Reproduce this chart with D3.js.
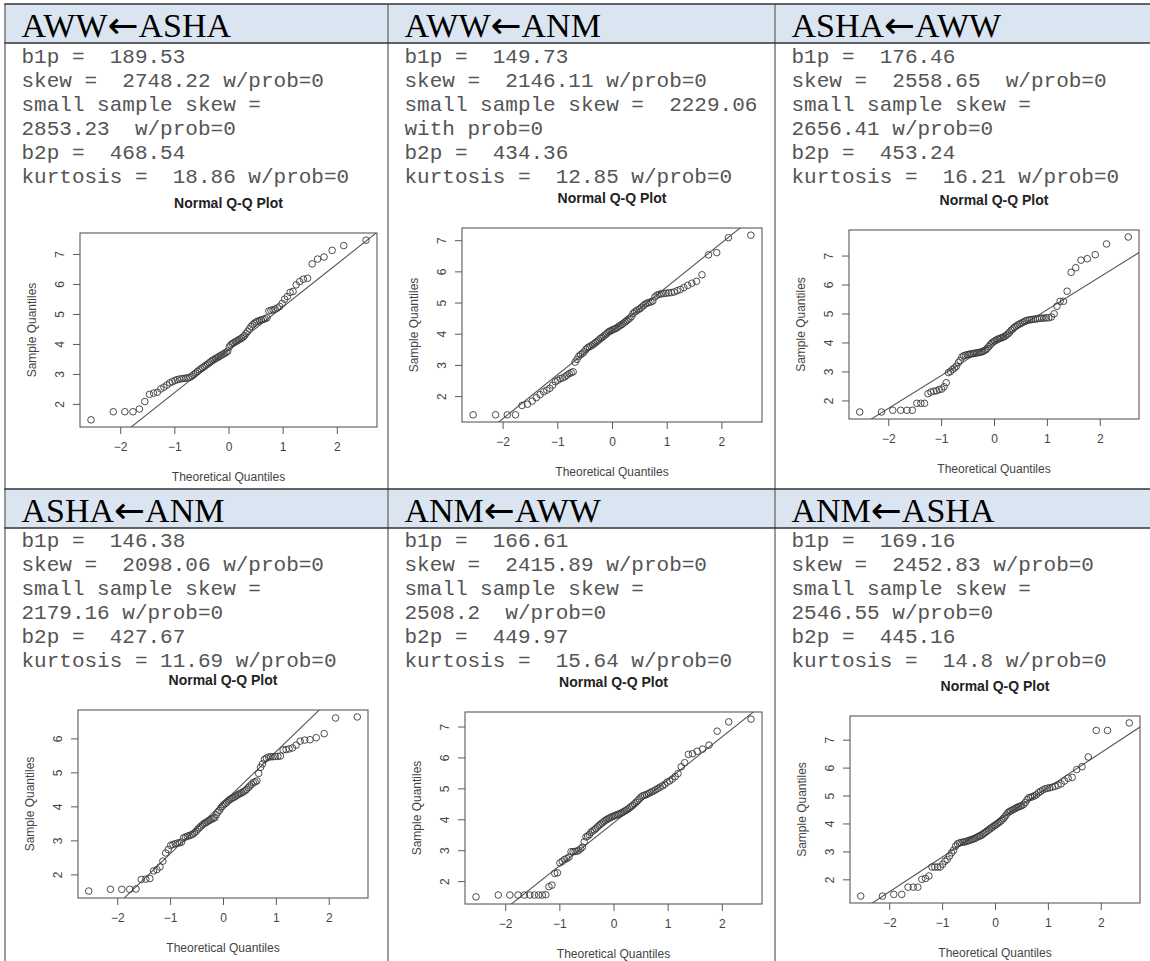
<!DOCTYPE html>
<html>
<head>
<meta charset="utf-8">
<script src="https://cdn.jsdelivr.net/npm/d3@7"></script>
<style>
  html, body { margin: 0; padding: 0; background: #ffffff; }
  svg { display: block; }
</style>
</head>
<body>
<svg id="chart" width="1150" height="961"></svg>
<script>
// ---------------- DATA ----------------
const panelTitles = ["AWW\u2190ASHA", "AWW\u2190ANM", "ASHA\u2190AWW", "ASHA\u2190ANM", "ANM\u2190AWW", "ANM\u2190ASHA"];

const statLinesAwwAsha = ["b1p =  189.53", "skew =  2748.22 w/prob=0", "small sample skew =", "2853.23  w/prob=0", "b2p =  468.54", "kurtosis =  18.86 w/prob=0"];
const statLinesAwwAnm  = ["b1p =  149.73", "skew =  2146.11 w/prob=0", "small sample skew =  2229.06", "with prob=0", "b2p =  434.36", "kurtosis =  12.85 w/prob=0"];
const statLinesAshaAww = ["b1p =  176.46", "skew =  2558.65  w/prob=0", "small sample skew =", "2656.41 w/prob=0", "b2p =  453.24", "kurtosis =  16.21 w/prob=0"];
const statLinesAshaAnm = ["b1p =  146.38", "skew =  2098.06 w/prob=0", "small sample skew =", "2179.16 w/prob=0", "b2p =  427.67", "kurtosis = 11.69 w/prob=0"];
const statLinesAnmAww  = ["b1p =  166.61", "skew =  2415.89 w/prob=0", "small sample skew =", "2508.2  w/prob=0", "b2p =  449.97", "kurtosis =  15.64 w/prob=0"];
const statLinesAnmAsha = ["b1p =  169.16", "skew =  2452.83 w/prob=0", "small sample skew =", "2546.55 w/prob=0", "b2p =  445.16", "kurtosis =  14.8 w/prob=0"];

const plotTitle = "Normal Q-Q Plot";
const xAxisLabel = "Theoretical Quantiles";
const yAxisLabel = "Sample Quantiles";

// theoretical normal quantiles (n = 90)
const theoreticalQuantiles = [-2.539,-2.128,-1.914,-1.764,-1.645,-1.545,-1.459,-1.383,-1.314,-1.250,-1.192,-1.137,-1.085,-1.036,-0.990,-0.946,-0.903,-0.862,-0.822,-0.784,-0.746,-0.710,-0.674,-0.640,-0.606,-0.573,-0.541,-0.508,-0.477,-0.446,-0.416,-0.385,-0.355,-0.326,-0.297,-0.268,-0.240,-0.210,-0.182,-0.154,-0.126,-0.098,-0.070,-0.042,-0.014,
  0.014,0.042,0.070,0.098,0.126,0.154,0.182,0.210,0.240,0.268,0.297,0.326,0.355,0.385,0.416,0.446,0.477,0.508,0.541,0.573,0.606,0.640,0.674,0.710,0.746,0.784,0.822,0.862,0.903,0.946,0.990,1.036,1.085,1.137,1.192,1.250,1.314,1.383,1.459,1.545,1.645,1.764,1.914,2.128,2.539];

// sorted sample quantiles
const sampleAwwAsha = [1.47,1.74,1.74,1.74,1.83,2.08,2.32,2.36,2.39,2.50,2.56,2.63,2.70,2.74,2.78,2.81,2.83,2.84,2.85,2.86,2.87,2.89,2.93,2.98,3.03,3.08,3.13,3.17,3.21,3.25,3.29,3.33,3.37,3.41,3.45,3.48,3.51,3.54,3.57,3.60,3.63,3.66,3.69,3.72,3.76,
  3.90,3.97,4.01,4.04,4.07,4.10,4.13,4.16,4.19,4.23,4.28,4.35,4.42,4.50,4.58,4.64,4.69,4.73,4.76,4.78,4.80,4.82,4.84,4.87,5.10,5.12,5.14,5.16,5.20,5.25,5.35,5.49,5.58,5.72,5.75,5.97,6.08,6.16,6.19,6.67,6.83,6.90,7.12,7.28,7.46];
const sampleAwwAnm = [1.40,1.40,1.40,1.40,1.70,1.74,1.84,1.95,2.05,2.14,2.19,2.25,2.35,2.46,2.51,2.56,2.58,2.62,2.67,2.72,2.75,2.78,3.09,3.18,3.28,3.33,3.37,3.42,3.50,3.55,3.58,3.61,3.64,3.68,3.72,3.76,3.80,3.85,3.88,3.92,3.96,4.00,4.05,4.08,4.10,
  4.13,4.15,4.17,4.20,4.24,4.27,4.30,4.34,4.38,4.42,4.46,4.50,4.55,4.65,4.70,4.73,4.77,4.80,4.85,4.90,4.95,4.98,5.00,5.02,5.05,5.18,5.24,5.26,5.28,5.29,5.30,5.31,5.32,5.34,5.38,5.42,5.48,5.55,5.62,5.68,5.89,6.53,6.60,7.08,7.16];
const sampleAshaAww = [1.60,1.60,1.66,1.66,1.66,1.66,1.90,1.90,1.90,2.23,2.29,2.32,2.33,2.38,2.39,2.47,2.61,2.96,3.00,3.07,3.12,3.18,3.30,3.38,3.50,3.54,3.56,3.58,3.59,3.60,3.61,3.62,3.63,3.64,3.65,3.66,3.67,3.69,3.72,3.75,3.80,3.86,3.92,3.98,4.02,
  4.05,4.08,4.11,4.13,4.15,4.17,4.19,4.22,4.26,4.30,4.36,4.42,4.47,4.52,4.56,4.60,4.63,4.66,4.69,4.72,4.75,4.77,4.78,4.79,4.80,4.81,4.82,4.83,4.84,4.84,4.85,4.85,4.88,4.99,5.25,5.42,5.42,5.77,6.42,6.58,6.84,6.89,7.03,7.40,7.64];
const sampleAshaAnm = [1.51,1.56,1.56,1.56,1.57,1.85,1.86,1.88,2.10,2.14,2.22,2.39,2.63,2.73,2.85,2.88,2.90,2.92,2.93,2.95,3.07,3.10,3.12,3.14,3.16,3.18,3.22,3.27,3.33,3.37,3.42,3.46,3.50,3.52,3.55,3.58,3.60,3.63,3.65,3.67,3.75,3.83,3.88,3.95,4.00,
  4.05,4.08,4.12,4.16,4.20,4.22,4.25,4.27,4.30,4.33,4.36,4.38,4.40,4.43,4.46,4.50,4.55,4.60,4.65,4.70,4.72,4.75,4.97,5.15,5.25,5.38,5.42,5.45,5.46,5.46,5.47,5.47,5.48,5.66,5.67,5.69,5.72,5.80,5.92,5.95,5.96,6.02,6.14,6.60,6.63];
const sampleAnmAww = [1.49,1.55,1.55,1.55,1.55,1.55,1.55,1.55,1.55,1.56,1.82,1.87,2.25,2.27,2.59,2.64,2.70,2.73,2.78,2.95,2.95,2.96,2.97,3.00,3.05,3.10,3.27,3.43,3.46,3.50,3.58,3.62,3.66,3.70,3.75,3.80,3.84,3.88,3.92,3.96,3.99,4.02,4.04,4.07,4.09,
  4.11,4.13,4.15,4.17,4.19,4.21,4.24,4.27,4.30,4.33,4.37,4.41,4.45,4.50,4.55,4.60,4.66,4.72,4.76,4.78,4.80,4.83,4.86,4.89,4.92,4.96,5.00,5.04,5.08,5.13,5.20,5.24,5.30,5.38,5.48,5.70,5.83,6.10,6.12,6.20,6.27,6.40,6.85,7.15,7.24];
const sampleAnmAsha = [1.40,1.40,1.46,1.46,1.72,1.72,1.72,2.00,2.03,2.12,2.44,2.44,2.44,2.44,2.54,2.65,2.71,2.83,2.95,3.04,3.19,3.27,3.30,3.32,3.33,3.34,3.36,3.38,3.40,3.42,3.44,3.46,3.49,3.52,3.55,3.56,3.60,3.64,3.68,3.72,3.76,3.80,3.84,3.88,3.92,
  3.95,3.99,4.03,4.07,4.12,4.17,4.23,4.30,4.38,4.42,4.45,4.48,4.51,4.54,4.57,4.60,4.62,4.64,4.68,4.75,4.85,4.92,4.94,4.96,4.99,5.03,5.10,5.15,5.20,5.24,5.26,5.28,5.30,5.33,5.37,5.42,5.52,5.62,5.65,5.93,6.03,6.38,7.33,7.33,7.60];

// reference line (qqline) per panel
const qqLineIntercepts = [3.80, 4.09, 3.99, 4.105, 3.88, 4.04];
const qqLineSlopes     = [1.43, 1.41, 1.135, 1.50, 1.39, 1.245];

const xTickValues = [-2, -1, 0, 1, 2];
const yTickValuesAwwAsha = [2, 3, 4, 5, 6, 7];
const yTickValuesAwwAnm  = [2, 3, 4, 5, 6, 7];
const yTickValuesAshaAww = [2, 3, 4, 5, 6, 7];
const yTickValuesAshaAnm = [2, 3, 4, 5, 6];
const yTickValuesAnmAww  = [2, 3, 4, 5, 6, 7];
const yTickValuesAnmAsha = [2, 3, 4, 5, 6, 7];

// ---------------- BUILD ----------------
const statLines = [statLinesAwwAsha, statLinesAwwAnm, statLinesAshaAww, statLinesAshaAnm, statLinesAnmAww, statLinesAnmAsha];
const samples = [sampleAwwAsha, sampleAwwAnm, sampleAshaAww, sampleAshaAnm, sampleAnmAww, sampleAnmAsha];
const yTicks = [yTickValuesAwwAsha, yTickValuesAwwAnm, yTickValuesAshaAww, yTickValuesAshaAnm, yTickValuesAnmAww, yTickValuesAnmAsha];

// layout
const W = 1150, H = 961;
const colLeft = [5, 388, 775];
const headerTop = [4, 489];
const headerH = 39;
const lineStep = 23.9;
const plotBoxes = [
  {x0: 80,  x1: 377,  y0: 233, y1: 427},
  {x0: 462, x1: 762,  y0: 228, y1: 422},
  {x0: 849, x1: 1139, y0: 230, y1: 419},
  {x0: 78,  x1: 368,  y0: 710, y1: 898},
  {x0: 465, x1: 762,  y0: 712, y1: 904},
  {x0: 850, x1: 1140, y0: 716, y1: 903}
];

const svg = d3.select("#chart");
svg.append("rect").attr("x", 0).attr("y", 0).attr("width", W).attr("height", H).attr("fill", "#ffffff");

// header bands
headerTop.forEach(t => {
  svg.append("rect").attr("x", colLeft[0]).attr("y", t).attr("width", W - colLeft[0]).attr("height", headerH)
    .attr("fill", "#dbe5f1");
});

// vertical dividers
colLeft.forEach(cx => {
  svg.append("line").attr("x1", cx).attr("x2", cx).attr("y1", headerTop[0]).attr("y2", H)
    .attr("stroke", "#7a7a7a").attr("stroke-width", 1.5);
});
// horizontal borders
headerTop.forEach(t => {
  [t, t + headerH].forEach(yy => {
    svg.append("line").attr("x1", colLeft[0] - 0.75).attr("x2", W).attr("y1", yy).attr("y2", yy)
      .attr("stroke", "#333333").attr("stroke-width", 1.5);
  });
});

const defs = svg.append("defs");

panelTitles.forEach((title, p) => {
  const row = Math.floor(p / 3), col = p % 3;
  const left = colLeft[col];
  const hTop = headerTop[row];
  const hBot = hTop + headerH;
  const tx = left + 16.5;

  // header label: "FROM←TO" with a larger arrow glyph
  const parts = title.split("\u2190");
  const ht = svg.append("text").attr("x", tx).attr("y", hBot - 6.5)
    .attr("font-family", "'Liberation Serif', 'Times New Roman', serif")
    .attr("font-size", 34).attr("fill", "#000");
  ht.append("tspan").text(parts[0]);
  ht.append("tspan").attr("font-family", "'DejaVu Sans', sans-serif").attr("font-size", 37)
    .attr("dx", 0).attr("dy", 1).text("\u2190");
  ht.append("tspan").attr("dx", 0).attr("dy", -1).text(parts[1]);

  // stats text
  const firstBase = hBot + (row === 0 ? 20.3 : 19.3);
  statLines[p].forEach((ln, k) => {
    svg.append("text").attr("x", tx).attr("y", firstBase + k * lineStep)
      .attr("font-family", "'Liberation Mono', 'Courier New', monospace")
      .attr("font-size", 21).attr("fill", "#555555")
      .style("white-space", "pre")
      .text(ln);
  });

  // Q-Q plot
  const b = plotBoxes[p];
  const tExt = d3.extent(theoreticalQuantiles);
  const tPad = (tExt[1] - tExt[0]) * 0.04;
  const sExt = d3.extent(samples[p]);
  const sPad = (sExt[1] - sExt[0]) * 0.04;
  const x = d3.scaleLinear().domain([tExt[0] - tPad, tExt[1] + tPad]).range([b.x0, b.x1]);
  const y = d3.scaleLinear().domain([sExt[0] - sPad, sExt[1] + sPad]).range([b.y1, b.y0]);

  const g = svg.append("g");
  const cid = "clip" + p;
  defs.append("clipPath").attr("id", cid).append("rect")
    .attr("x", b.x0).attr("y", b.y0).attr("width", b.x1 - b.x0).attr("height", b.y1 - b.y0);

  // title
  g.append("text").attr("x", (b.x0 + b.x1) / 2).attr("y", b.y0 - 25)
    .attr("text-anchor", "middle")
    .attr("font-family", "'Liberation Sans', Arial, sans-serif")
    .attr("font-size", 14).attr("font-weight", "bold").attr("fill", "#222")
    .text(plotTitle);

  // reference line
  const xd = x.domain();
  g.append("line")
    .attr("clip-path", "url(#" + cid + ")")
    .attr("x1", x(xd[0])).attr("y1", y(qqLineIntercepts[p] + qqLineSlopes[p] * xd[0]))
    .attr("x2", x(xd[1])).attr("y2", y(qqLineIntercepts[p] + qqLineSlopes[p] * xd[1]))
    .attr("stroke", "#555").attr("stroke-width", 1.1);

  // points
  g.selectAll("circle.pt").data(samples[p].map((v, i) => [theoreticalQuantiles[i], v]))
    .enter().append("circle").attr("class", "pt")
    .attr("cx", d => x(d[0])).attr("cy", d => y(d[1])).attr("r", 3.3)
    .attr("fill", "none").attr("stroke", "#3a3a3a").attr("stroke-width", 0.9);

  // box
  g.append("rect").attr("x", b.x0).attr("y", b.y0).attr("width", b.x1 - b.x0).attr("height", b.y1 - b.y0)
    .attr("fill", "none").attr("stroke", "#5a5a5a").attr("stroke-width", 1.1);

  // x axis (ticks below box)
  const xAxis = d3.axisBottom(x).tickValues(xTickValues).tickSizeInner(7).tickSizeOuter(0).tickPadding(8)
    .tickFormat(d3.format("d"));
  const xa = g.append("g").attr("transform", "translate(0," + b.y1 + ")").call(xAxis);
  xa.select(".domain").remove();
  xa.selectAll("line").attr("stroke", "#5a5a5a");
  xa.selectAll("text").attr("font-family", "'Liberation Sans', Arial, sans-serif").attr("font-size", 12).attr("fill", "#444");

  // y axis (rotated labels)
  const yAxis = d3.axisLeft(y).tickValues(yTicks[p]).tickSizeInner(7).tickSizeOuter(0).tickFormat(d3.format("d"));
  const ya = g.append("g").attr("transform", "translate(" + b.x0 + ",0)").call(yAxis);
  ya.select(".domain").remove();
  ya.selectAll("line").attr("stroke", "#5a5a5a");
  ya.selectAll("text")
    .attr("x", null).attr("dy", null)
    .attr("text-anchor", "middle")
    .attr("transform", "translate(-15.7,0) rotate(-90)")
    .attr("font-family", "'Liberation Sans', Arial, sans-serif").attr("font-size", 12).attr("fill", "#444");

  // axis labels
  g.append("text").attr("x", (b.x0 + b.x1) / 2).attr("y", b.y1 + 54.3)
    .attr("text-anchor", "middle")
    .attr("font-family", "'Liberation Sans', Arial, sans-serif")
    .attr("font-size", 12).attr("fill", "#444")
    .text(xAxisLabel);
  g.append("text")
    .attr("transform", "translate(" + (b.x0 - 43.7) + "," + ((b.y0 + b.y1) / 2) + ") rotate(-90)")
    .attr("text-anchor", "middle")
    .attr("font-family", "'Liberation Sans', Arial, sans-serif")
    .attr("font-size", 12).attr("fill", "#444")
    .text(yAxisLabel);
});
</script>
</body>
</html>
